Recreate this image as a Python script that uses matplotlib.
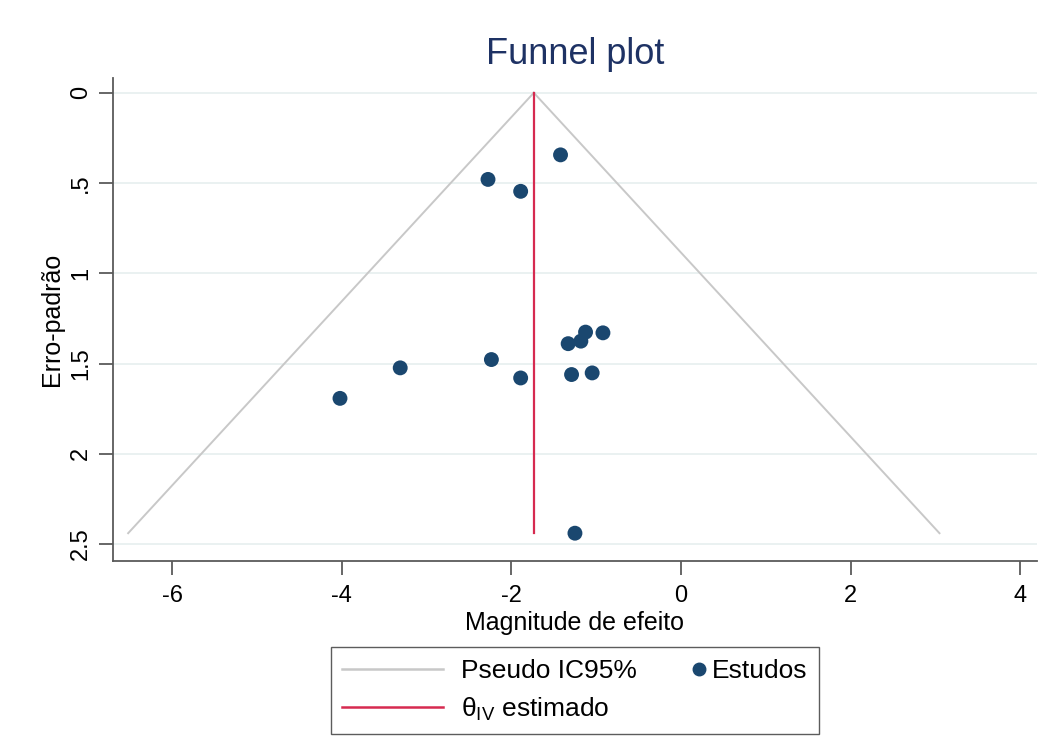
import numpy as np
import matplotlib.pyplot as plt
from matplotlib.lines import Line2D
from matplotlib.legend_handler import HandlerLine2D

plt.rcParams['font.family'] = ['Liberation Sans', 'DejaVu Sans']

# effect sizes and standard errors
effect = [-1.42, -2.275, -1.89, -1.125, -0.92, -1.18, -1.33, -2.235, -3.31, -1.89, -1.29, -1.047, -4.02, -1.25]
std_err = [0.344, 0.48, 0.546, 1.326, 1.33, 1.376, 1.39, 1.478, 1.524, 1.58, 1.561, 1.552, 1.693, 2.44]
theta_iv = -1.735
x_ticks = [-6, -4, -2, 0, 2, 4]
y_ticks = [0, 0.5, 1, 1.5, 2, 2.5]
y_tick_labels = ["0", ".5", "1", "1.5", "2", "2.5"]

navy = "#1a476f"
red = "#d62a50"
gray = "#c8c8c8"
axis_gray = "#5a5a5a"


class MarkerAtEnd(HandlerLine2D):
    """Puts the single legend marker at the right end of the handle box (Stata style)."""
    def get_xdata(self, legend, xdescent, ydescent, width, height, fontsize):
        x = -xdescent + width + 0.2 * fontsize
        return [x - 1, x + 1], [x]


fig = plt.figure(figsize=(10.51, 7.51), dpi=100)
ax = fig.add_axes([0.1072, 0.2530, 0.8797, 0.6427])

se_max = max(std_err)
se_line = np.array([0, se_max])
ax.plot(theta_iv - 1.96 * se_line, se_line, color=gray, lw=1.4, zorder=2)
ax.plot(theta_iv + 1.96 * se_line, se_line, color=gray, lw=1.4, zorder=2)
ax.plot([theta_iv, theta_iv], [0, se_max], color=red, lw=1.6, zorder=3)
ax.scatter(effect, std_err, s=115, color=navy, edgecolors="none", zorder=4)

ax.set_xlim(-6.70, 4.20)
ax.set_ylim(2.594, -0.08)
ax.set_xticks(x_ticks)
ax.set_xticklabels([str(t) for t in x_ticks])
ax.set_yticks(y_ticks)
ax.set_yticklabels(y_tick_labels, rotation=90, va="center")
ax.grid(axis="y", color="#e6efef", lw=1.2)
ax.set_axisbelow(True)

for side in ["top", "right"]:
    ax.spines[side].set_visible(False)
for side in ["left", "bottom"]:
    ax.spines[side].set_color(axis_gray)
    ax.spines[side].set_linewidth(1.3)
ax.tick_params(direction="out", length=10, width=1.3, color=axis_gray, labelsize=17, pad=7)
ax.tick_params(axis="y", pad=5)

ax.set_xlabel("Magnitude de efeito", fontsize=18, labelpad=3)
ax.set_ylabel("Erro-padrão", fontsize=18, labelpad=4)
ax.set_title("Funnel plot", fontsize=26, color="#1e3264", pad=10)

est_handle = Line2D([0], [0], marker="o", ls="none", markerfacecolor=navy,
                    markeredgecolor=navy, markersize=9, label="Estudos")
handles = [
    Line2D([0], [0], color=gray, lw=1.8, label="Pseudo IC95%"),
    Line2D([0], [0], color=red, lw=1.8, label=r"θ$_{\mathregular{IV}}$ estimado"),
    est_handle,
]
fig.legend(handles=handles, ncol=2, loc="center", bbox_to_anchor=(0.547, 0.080),
           handler_map={est_handle: MarkerAtEnd()},
           fontsize=19, frameon=True, fancybox=False, edgecolor="#333333",
           handlelength=3.8, columnspacing=-1.63, handletextpad=0.68,
           borderpad=0.45, labelspacing=0.45, borderaxespad=0)

fig.savefig("out.png", dpi=100, facecolor="white")
